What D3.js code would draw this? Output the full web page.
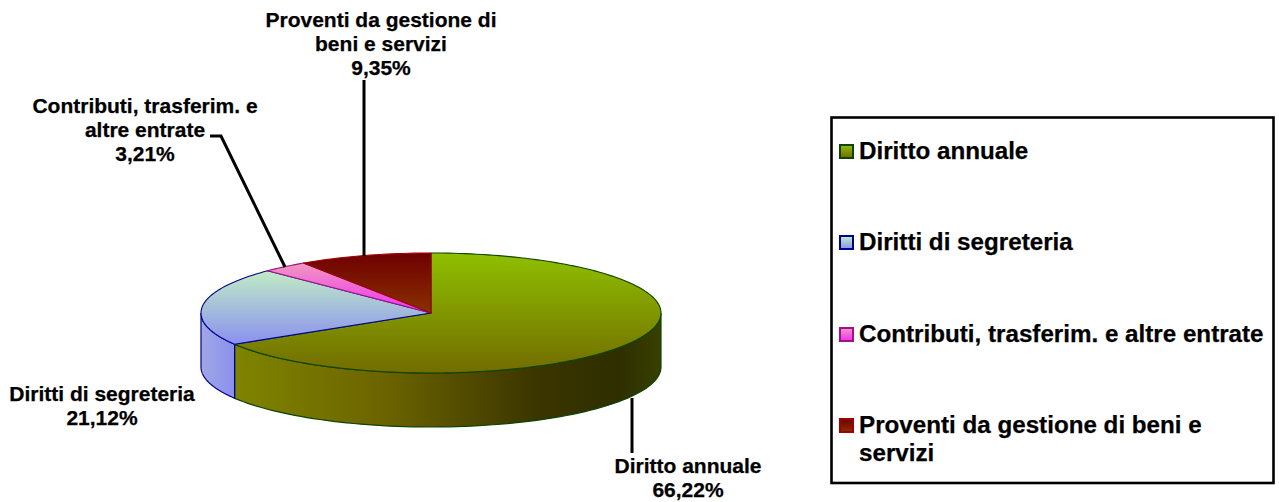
<!DOCTYPE html>
<html><head><meta charset="utf-8">
<script src="https://cdn.jsdelivr.net/npm/d3@7"></script>
<style>html,body{margin:0;padding:0;background:#fff}svg{display:block}text{font-family:"Liberation Sans",Arial,sans-serif;font-weight:bold;fill:#000;stroke:#000;stroke-width:.25px}</style>
</head><body><svg id="c" width="1279" height="502"></svg>
<script>
const categories=["Diritto annuale","Diritti di segreteria","Contributi, trasferim. e altre entrate","Proventi da gestione di beni e servizi"];
const values=[66.22,21.12,3.21,9.35];
const valueLabels=["66,22%","21,12%","3,21%","9,35%"];
const labelLines=[["Diritto annuale"],["Diritti di segreteria"],["Contributi, trasferim. e","altre entrate"],["Proventi da gestione di","beni e servizi"]];
const legendLines=[["Diritto annuale"],["Diritti di segreteria"],["Contributi, trasferim. e altre entrate"],["Proventi da gestione di beni e","servizi"]];
const topTop=["#8fc000","#c2f0c2","#f098c0","#6e0000"];
const topBottom=["#726c00","#8a8ff0","#f030f0","#8a3000"];
const strokes=["#0c4400","#00008c","#a0108c","#a00000"];
const wallStops=[[[0,"#7f8400"],[0.35,"#6c6400"],[0.7,"#3c3600"],[0.9,"#2e2e00"],[1,"#384000"]],[[0,"#a0a8e4"],[1,"#8a90ee"]]];

const cx=431,cy=313,rx=230,ry=60,depth=54;
const svg=d3.select("#c"),defs=svg.append("defs");
const pie=d3.pie().sort(null).value(d=>d)(values);
const X=a=>cx+rx*Math.sin(a),Y=a=>cy-ry*Math.cos(a);

const gradTop=[cy-ry,268,264,cy-ry],gradBottom=[cy+ry,345,cy,cy];
topTop.forEach((c,i)=>{
  const g=defs.append("linearGradient").attr("id","t"+i).attr("gradientUnits","userSpaceOnUse")
    .attr("x1",0).attr("x2",0).attr("y1",gradTop[i]).attr("y2",gradBottom[i]);
  g.append("stop").attr("offset",0).attr("stop-color",c);
  g.append("stop").attr("offset",1).attr("stop-color",topBottom[i]);
});
wallStops.forEach((s,i)=>{
  const g=defs.append("linearGradient").attr("id","w"+i).attr("gradientUnits","userSpaceOnUse")
    .attr("x1",i==0?234:cx-rx).attr("x2",i==0?cx+rx:234).attr("y1",0).attr("y2",0);
  s.forEach(d=>g.append("stop").attr("offset",d[0]).attr("stop-color",d[1]));
});

function wall(a0,a1){
  const n=80,pts=d3.range(n+1).map(k=>a0+(a1-a0)*k/n);
  const p=d3.path();
  pts.forEach((a,k)=>k?p.lineTo(X(a),Y(a)):p.moveTo(X(a),Y(a)));
  pts.slice().reverse().forEach(a=>p.lineTo(X(a),Y(a)+depth));
  p.closePath();return p.toString();
}
svg.append("path").attr("d",wall(Math.PI/2,pie[0].endAngle)).attr("fill","url(#w0)").attr("stroke",strokes[0]).attr("stroke-width",1.2);
svg.append("path").attr("d",wall(pie[1].startAngle,3*Math.PI/2)).attr("fill","url(#w1)").attr("stroke",strokes[1]).attr("stroke-width",1.2);

svg.append("g").selectAll("path").data(pie).join("path")
  .attr("d",d=>{
    const n=Math.max(8,Math.ceil((d.endAngle-d.startAngle)*40)),p=d3.path();
    p.moveTo(cx,cy);
    d3.range(n+1).forEach(k=>{const a=d.startAngle+(d.endAngle-d.startAngle)*k/n;p.lineTo(X(a),Y(a));});
    p.closePath();return p.toString();
  })
  .attr("fill",(d,i)=>`url(#t${i})`).attr("stroke",(d,i)=>strokes[i]).attr("stroke-width",1.1).attr("stroke-linejoin","round");

const line=d3.line();
const lw=3;
svg.append("path").attr("d",line([[632,398],[632,453]])).attr("fill","none").attr("stroke","#000").attr("stroke-width",lw);
svg.append("path").attr("d",line([[285,267],[221,136],[210,136]])).attr("fill","none").attr("stroke","#000").attr("stroke-width",lw);
svg.append("path").attr("d",line([[364,256],[364,80]])).attr("fill","none").attr("stroke","#000").attr("stroke-width",lw);

const lpos=[[688,473],[102,401],[145,113],[381,27]];
const g=svg.append("g");
categories.forEach((c,i)=>{
  const lines=labelLines[i].concat([valueLabels[i]]);
  const t=g.append("text").attr("text-anchor","middle").attr("font-size",21);
  lines.forEach((s,k)=>t.append("tspan").attr("x",lpos[i][0]).attr("y",lpos[i][1]+k*24).text(s));
});

svg.append("rect").attr("x",831.5).attr("y",117.5).attr("width",442).attr("height",365.5).attr("fill","#fff").attr("stroke","#000").attr("stroke-width",2.6);
const ly=[159,250,342,433];
categories.forEach((c,i)=>{
  const gr=defs.append("linearGradient").attr("id","l"+i).attr("x1",0).attr("x2",0).attr("y1",0).attr("y2",1);
  gr.append("stop").attr("offset",0).attr("stop-color",topTop[i]);
  gr.append("stop").attr("offset",1).attr("stop-color",topBottom[i]);
  svg.append("rect").attr("x",840).attr("y",ly[i]-14).attr("width",13).attr("height",13).attr("fill",`url(#l${i})`).attr("stroke",strokes[i]).attr("stroke-width",2);
  const t=svg.append("text").attr("font-size",24.2);
  legendLines[i].forEach((s,k)=>t.append("tspan").attr("x",859).attr("y",ly[i]+k*28).text(s));
});
</script></body></html>
